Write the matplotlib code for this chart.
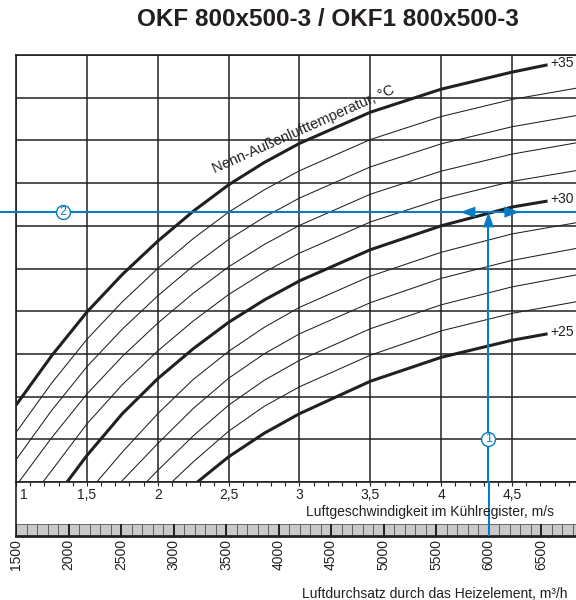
import numpy as np
import matplotlib
matplotlib.use('Agg')
import matplotlib.pyplot as plt
from matplotlib import transforms

plt.rcParams['font.family'] = ['Liberation Sans', 'DejaVu Sans']

INK = '#231f20'
BLUE = '#0a7bc2'
GRAY = '#c8c9ca'

# Kennlinien: Geschwindigkeit (m/s) und Höhe im Raster (0..10)
t35_v = [1.0, 1.25, 1.5, 1.75, 2.0, 2.25, 2.5, 2.75, 3.0, 3.5, 4.0, 4.5, 4.75]
t35_y = [1.80, 2.95, 3.98, 4.86, 5.64, 6.34, 6.96, 7.48, 7.93, 8.66, 9.20, 9.60, 9.77]
t34_v = [1.0, 1.25, 1.5, 1.75, 2.0, 2.25, 2.5, 2.75, 3.0, 3.5, 4.0, 4.5, 5.0]
t34_y = [1.16, 2.31, 3.34, 4.22, 5.00, 5.70, 6.32, 6.84, 7.29, 8.02, 8.56, 8.96, 9.25]
t33_v = [1.0, 1.25, 1.5, 1.75, 2.0, 2.25, 2.5, 2.75, 3.0, 3.5, 4.0, 4.5, 5.0]
t33_y = [0.52, 1.67, 2.70, 3.58, 4.36, 5.06, 5.68, 6.20, 6.65, 7.38, 7.92, 8.32, 8.61]
t32_v = [1.02, 1.25, 1.5, 1.75, 2.0, 2.25, 2.5, 2.75, 3.0, 3.5, 4.0, 4.5, 5.0]
t32_y = [0.0, 1.03, 2.06, 2.94, 3.72, 4.42, 5.04, 5.56, 6.01, 6.74, 7.28, 7.68, 7.97]
t31_v = [1.19, 1.25, 1.5, 1.75, 2.0, 2.25, 2.5, 2.75, 3.0, 3.5, 4.0, 4.5, 5.0]
t31_y = [0.0, 0.26, 1.36, 2.28, 3.07, 3.77, 4.39, 4.91, 5.36, 6.09, 6.63, 7.04, 7.32]
t30_v = [1.36, 1.5, 1.75, 2.0, 2.25, 2.5, 2.75, 3.0, 3.5, 4.0, 4.5, 4.75]
t30_y = [0.0, 0.62, 1.60, 2.42, 3.12, 3.74, 4.26, 4.71, 5.44, 6.00, 6.44, 6.58]
t29_v = [1.57, 1.75, 2.0, 2.25, 2.5, 2.75, 3.0, 3.5, 4.0, 4.5, 5.0]
t29_y = [0.0, 0.70, 1.60, 2.40, 3.06, 3.62, 4.09, 4.82, 5.38, 5.81, 6.10]
t28_v = [1.74, 2.0, 2.25, 2.5, 2.75, 3.0, 3.5, 4.0, 4.5, 5.0]
t28_y = [0.0, 0.90, 1.72, 2.43, 3.00, 3.47, 4.20, 4.77, 5.19, 5.50]
t27_v = [1.92, 2.0, 2.25, 2.5, 2.75, 3.0, 3.5, 4.0, 4.5, 5.0]
t27_y = [0.0, 0.27, 1.08, 1.80, 2.38, 2.85, 3.59, 4.15, 4.57, 4.88]
t26_v = [2.10, 2.25, 2.5, 2.75, 3.0, 3.5, 4.0, 4.5, 5.0]
t26_y = [0.0, 0.47, 1.19, 1.77, 2.23, 2.97, 3.54, 3.95, 4.25]
t25_v = [2.28, 2.5, 2.75, 3.0, 3.5, 4.0, 4.5, 4.75]
t25_y = [0.0, 0.59, 1.14, 1.60, 2.36, 2.92, 3.32, 3.47]

v_ticks = [1, 1.5, 2, 2.5, 3, 3.5, 4, 4.5, 5]
v_labels = ['1', '1,5', '2', '2,5', '3', '3,5', '4', '4,5', '5']
flow_ticks = [1500, 2000, 2500, 3000, 3500, 4000, 4500, 5000, 5500, 6000, 6500]
flow_min, flow_max = 1500, 6900

# Beispiel: 6000 m3/h -> Schnitt mit +30 Kurve
flow_sel = 6000
y_sel = 6.32

W, H = 576, 600


def box(x0, y0, x1, y1):
    return [x0 / W, 1 - y1 / H, (x1 - x0) / W, (y1 - y0) / H]


fig = plt.figure(figsize=(W / 100, H / 100), dpi=100)

ax = fig.add_axes(box(16, 55, 583, 482))
ax.set_xlim(1, 5)
ax.set_ylim(0, 10)
ax.set_xticks(v_ticks)
ax.set_xticklabels(v_labels, fontsize=10, color=INK)
ax.set_xticks(np.arange(1, 5.01, 0.1), minor=True)
ax.set_yticks(range(11))
ax.tick_params(axis='y', length=0, labelleft=False)
ax.tick_params(axis='x', which='both', direction='out', length=3, width=0.8,
               color=INK, pad=1)
ax.grid(True, color=INK, lw=1.1)
for s in ax.spines.values():
    s.set_color(INK)
    s.set_linewidth(1.2)
first = ax.get_xticklabels()[0]
first.set_horizontalalignment('left')
first.set_transform(first.get_transform() +
                    transforms.ScaledTranslation(3 / 72, 0, fig.dpi_scale_trans))

thin = [(t34_v, t34_y), (t33_v, t33_y), (t32_v, t32_y), (t31_v, t31_y),
        (t29_v, t29_y), (t28_v, t28_y), (t27_v, t27_y), (t26_v, t26_y)]
for vv, yy in thin:
    ax.plot(vv, yy, color=INK, lw=0.75, solid_capstyle='butt')

for vv, yy, lab in [(t35_v, t35_y, '+35'), (t30_v, t30_y, '+30'), (t25_v, t25_y, '+25')]:
    ax.plot(vv, yy, color=INK, lw=2.2, solid_capstyle='butt')
    ax.text(vv[-1] + 0.02, yy[-1] + 0.05, lab, fontsize=10, color=INK,
            ha='left', va='center')

ax.text(2.40, 7.22, 'Nenn-Außenlufttemperatur, °C', fontsize=10.5, color=INK,
        rotation=24, rotation_mode='anchor', ha='left', va='baseline')

# blaue Hilfslinien
v_sel = 1 + (flow_sel - flow_min) / (flow_max - flow_min) * 4
ax.axhline(y_sel, xmin=-16 / 567, xmax=1, color=BLUE, lw=1.5, clip_on=False, zorder=5)
ax.plot([v_sel, v_sel], [0, y_sel - 0.3], color=BLUE, lw=1.5, zorder=5)
head = dict(arrowstyle='-|>,head_length=1.1,head_width=0.4', color=BLUE,
            lw=0, shrinkA=0, shrinkB=0, mutation_scale=10)
ax.annotate('', xy=(v_sel, y_sel), xytext=(v_sel, y_sel - 0.37), arrowprops=head, zorder=6)
ax.annotate('', xy=(v_sel - 0.20, y_sel), xytext=(v_sel - 0.095, y_sel), arrowprops=head, zorder=6)
ax.annotate('', xy=(v_sel + 0.22, y_sel), xytext=(v_sel + 0.115, y_sel), arrowprops=head, zorder=6)

for (cx, cy, num) in [(v_sel, 1.0, '1'), (1.33, y_sel, '2')]:
    ax.plot(cx, cy, 'o', ms=10, mfc='white', mec=BLUE, mew=1.0, zorder=7)
    ax.text(cx, cy, num, color=BLUE, fontsize=9, ha='center', va='center', zorder=8)

# untere Skala Luftdurchsatz
ax2 = fig.add_axes(box(16, 482, 583, 536))
ax2.set_xlim(flow_min, flow_max)
ax2.set_ylim(0, 4.5)
cells = np.arange(flow_min, flow_max, 100)
ax2.bar(cells, 1, width=100, align='edge', color=GRAY, edgecolor='#555555', lw=0.6)
ax2.vlines(flow_ticks, 0, 1, color=INK, lw=1.4)
ax2.axvline(flow_sel, color=BLUE, lw=1.5, zorder=5)
ax2.set_xticks(flow_ticks)
ax2.set_xticklabels([str(q) for q in flow_ticks], rotation=90, fontsize=10, color=INK)
ax2.tick_params(axis='x', length=0, pad=2)
ax2.set_yticks([])
ax2.patch.set_alpha(0)
ax2.spines['top'].set_visible(False)
ax2.spines['left'].set_linewidth(1.2)
ax2.spines['right'].set_linewidth(1.2)
ax2.spines['bottom'].set_linewidth(2.0)
for s in ax2.spines.values():
    s.set_color(INK)

fig.text(430 / W, 1 - 512 / H, 'Luftgeschwindigkeit im Kühlregister, m/s',
         fontsize=10, color=INK, ha='center', va='center')
fig.text(567 / W, 1 - 594 / H, 'Luftdurchsatz durch das Heizelement, m³/h',
         fontsize=10, color=INK, ha='right', va='center')
fig.text(328 / W, 1 - 19 / H, 'OKF 800x500-3 / OKF1 800x500-3',
         fontsize=17.5, fontweight='bold', color=INK, ha='center', va='center')

fig.savefig('out.png', dpi=100)
